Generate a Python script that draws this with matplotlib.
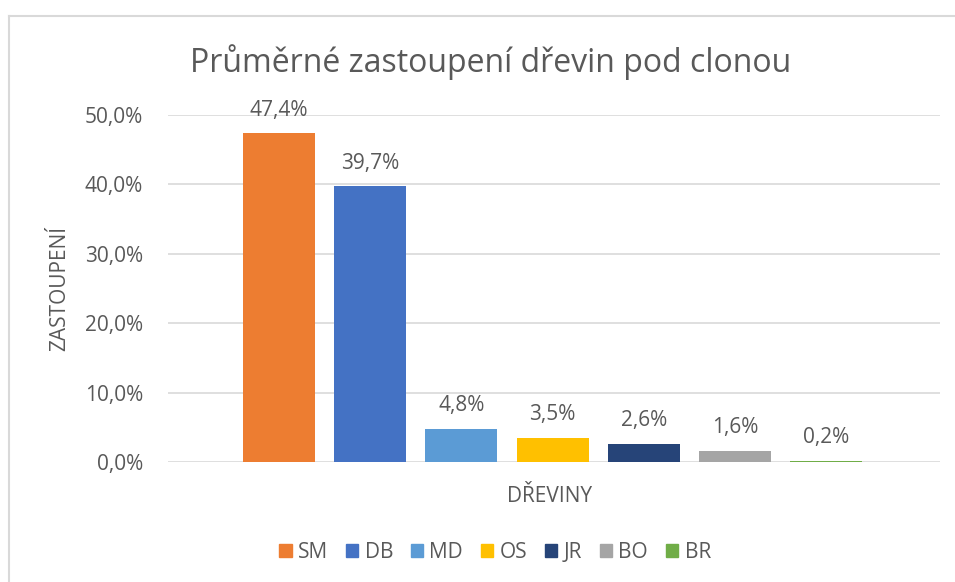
import matplotlib
matplotlib.use('Agg')
import matplotlib.pyplot as plt
from matplotlib.lines import Line2D
from matplotlib.patches import Patch

# species share under the canopy (%)
druhy = ['SM', 'DB', 'MD', 'OS', 'JR', 'BO', 'BR']
podil = [47.4, 39.7, 4.8, 3.5, 2.6, 1.6, 0.2]
barvy = ['#ED7D31', '#4472C4', '#5B9BD5', '#FFC000', '#264478', '#A5A5A5', '#70AD47']
yticks = [0, 10, 20, 30, 40, 50]

TXT = '#595959'
plt.rcParams['font.family'] = ['Open Sans', 'DejaVu Sans']

fig = plt.figure(figsize=(9.55, 5.82), dpi=100)
ax = fig.add_axes([168/955, 1-462/582, (940-168)/955, (462-115)/582])

x = list(range(len(druhy)))
bars = ax.bar(x, podil, width=0.79, color=barvy, zorder=3)
for b, v in zip(bars, podil):
    ax.annotate(f'{v:.1f}%'.replace('.', ','), (b.get_x()+b.get_width()/2, v),
                xytext=(0, 9), textcoords='offset points', ha='center', va='bottom',
                fontsize=15, color=TXT)

ax.set_xlim(-1.22, 7.25)
ax.set_ylim(0, 50)
ax.set_yticks(yticks)
ax.set_yticklabels([f'{t:.1f}%'.replace('.', ',') for t in yticks], fontsize=15, color=TXT)
ax.set_xticks([])
ax.tick_params(axis='y', length=0, pad=18)
ax.grid(axis='y', color='#D9D9D9', lw=1.2, zorder=0)
for s in ax.spines.values():
    s.set_visible(False)
ax.set_ylabel('ZASTOUPENÍ', fontsize=15, color=TXT)
ax.yaxis.set_label_coords(-(168-70)/772, (462-288)/347)
ax.set_xlabel('DŘEVINY', fontsize=15, color=TXT)
ax.xaxis.set_label_coords((550-168)/772, -(486-462)/347)

fig.text(491/955, 1-62/582, 'Průměrné zastoupení dřevin pod clonou', ha='center', va='center',
         fontsize=23, color=TXT)

handles = [Patch(color=c, label=d) for c, d in zip(barvy, druhy)]
fig.legend(handles=handles, loc='center', bbox_to_anchor=(495/955, 1-552/582), ncol=len(druhy),
           frameon=False, fontsize=15, labelcolor=TXT, handlelength=0.6, handleheight=0.6,
           handletextpad=0.3, columnspacing=0.85)

# chart border (left and top edges)
fig.add_artist(Line2D([9/955, 9/955], [0, 1-16/582], color='#D9D9D9', lw=1.5, transform=fig.transFigure))
fig.add_artist(Line2D([9/955, 1], [1-16/582, 1-16/582], color='#D9D9D9', lw=1.5, transform=fig.transFigure))

fig.savefig('out.png', dpi=100)
